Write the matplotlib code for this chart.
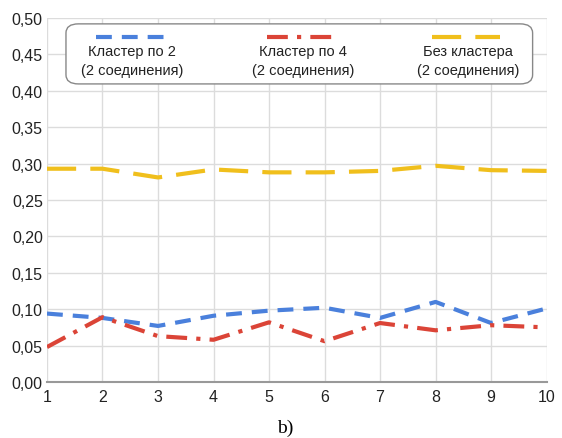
# -*- coding: utf-8 -*-
import matplotlib
matplotlib.use("Agg")
import matplotlib.pyplot as plt
from matplotlib.patches import FancyBboxPatch
from matplotlib.lines import Line2D
from matplotlib.ticker import FuncFormatter

x = [1, 2, 3, 4, 5, 6, 7, 8, 9, 10]
cluster2 = [0.094, 0.088, 0.077, 0.091, 0.098, 0.102, 0.088, 0.110, 0.081, 0.101]
cluster4 = [0.048, 0.089, 0.063, 0.058, 0.082, 0.056, 0.081, 0.071, 0.078, 0.075]
no_cluster = [0.293, 0.293, 0.281, 0.292, 0.288, 0.288, 0.290, 0.297, 0.291, 0.290]
labels = ["Кластер по 2\n(2 соединения)", "Кластер по 4\n(2 соединения)",
          "Без кластера\n(2 соединения)"]

plt.rcParams['font.family'] = ['Liberation Sans Narrow', 'Liberation Sans', 'DejaVu Sans']

fig = plt.figure(figsize=(5.62, 4.39), dpi=100)
ax = fig.add_axes([0.0836, 0.1276, 0.889, 0.829])

blue, red, yellow = "#4a80dc", "#db4437", "#f0bf1c"
d_blue, d_red, d_yellow = (3.8, 2.4), (5, 2.2, 1, 2.2), (7, 3.4)
ax.plot(x, cluster2, color=blue, lw=3, dashes=d_blue)
ax.plot(x, cluster4, color=red, lw=3, dashes=d_red)
ax.plot(x, no_cluster, color=yellow, lw=3, dashes=d_yellow)

ax.set_xlim(1, 10)
ax.set_ylim(0, 0.5)
ax.set_xticks(x)
ax.set_yticks([i * 0.05 for i in range(11)])
ax.yaxis.set_major_formatter(FuncFormatter(lambda v, p: f"{v:.2f}".replace('.', ',')))
ax.tick_params(length=0, labelsize=11.5, colors='#222222')
ax.tick_params(axis='x', pad=5)
ax.tick_params(axis='y', pad=3)
ax.grid(True, color='#dcdcdc', lw=1)
ax.set_axisbelow(True)
for s in ['top', 'right', 'left']:
    ax.spines[s].set_visible(False)
ax.spines['bottom'].set_color('#999999')
ax.spines['bottom'].set_linewidth(1.5)

# legend box drawn by hand: sample line above two-line label
box = FancyBboxPatch((0.038, 0.819), 0.934, 0.165, transform=ax.transAxes,
                     boxstyle="round,pad=0,rounding_size=0.025",
                     fc='white', ec='#888888', lw=1, zorder=5)
ax.add_patch(box)
centers = [0.166, 0.508, 0.838]
styles = [(blue, d_blue), (red, d_red), (yellow, d_yellow)]
for cx, (c, d), lab in zip(centers, styles, labels):
    ln = Line2D([cx - 0.068, cx + 0.068], [0.9486, 0.9486], transform=ax.transAxes,
                color=c, lw=3, dashes=d, zorder=6)
    ax.add_line(ln)
    ax.text(cx + 0.005, 0.883, lab, transform=ax.transAxes, ha='center', va='center',
            fontsize=10.5, linespacing=1.4, color='#222222', zorder=6)

fig.text(0.507, 0.005, "b)", ha='center', va='bottom', fontsize=14,
         family=['Liberation Serif', 'DejaVu Serif'])

fig.savefig("out.png", dpi=100)
